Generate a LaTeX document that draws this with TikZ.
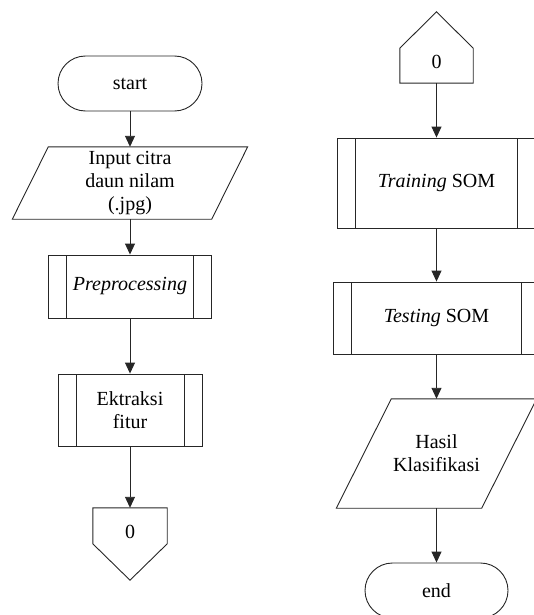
\documentclass[tikz,border=0pt]{standalone}
\usepackage{fontspec}
\setmainfont{Liberation Serif}
\usetikzlibrary{arrows.meta,shapes.misc}
\begin{document}
\begin{tikzpicture}[x=1pt,y=-1pt,
  box/.style={inner sep=0pt, align=center, font=\fontsize{20}{23}\selectfont},
  line/.style={line width=0.9pt, draw=black!85},
  arr/.style={line, -{Triangle[length=11pt,width=10pt]}},
  term/.style={box, rounded rectangle, draw=black!85, line width=0.9pt},
  proc/.style={box, draw=black!85, line width=0.9pt,
    path picture={\draw[line]
      ([xshift=18pt]path picture bounding box.north west) -- ([xshift=18pt]path picture bounding box.south west)
      ([xshift=-18pt]path picture bounding box.north east) -- ([xshift=-18pt]path picture bounding box.south east);}},
]
\useasboundingbox (0,0) rectangle (534,615);

% left column
\node[term, minimum width=144pt, minimum height=55pt] (start) at (130,83.5) {start};

\node[box, minimum width=235pt, minimum height=72pt] (in) at (130,183) {Input citra\\daun nilam\\(.jpg)};
\draw[line] ([xshift=36pt]in.north west) -- (in.north east) -- ([xshift=-36pt]in.south east) -- (in.south west) -- cycle;

\node[proc, minimum width=163pt, minimum height=63pt] (pre) at (130,286.5) {\textit{Preprocessing}};

\node[proc, minimum width=144pt, minimum height=72pt] (ekt) at (130,410) {Ektraksi\\fitur};

\node[box, minimum width=74pt, minimum height=72pt, label={[box, yshift=12pt]center:0}] (offA) at (130,544) {};
\draw[line] (offA.north west) -- (offA.north east) -- ([yshift=-36pt]offA.north east) -- (offA.south) -- ([yshift=-36pt]offA.north west) -- cycle;

% right column
\node[box, minimum width=73pt, minimum height=71pt, label={[box, yshift=-14pt]center:0}] (offB) at (436.5,47.5) {};
\draw[line] (offB.south west) -- (offB.south east) -- ([yshift=35pt]offB.south east) -- (offB.north) -- ([yshift=35pt]offB.south west) -- cycle;

\node[proc, minimum width=198pt, minimum height=90pt] (train) at (436.5,183) {\textit{Training} SOM};

\node[proc, minimum width=206pt, minimum height=72pt] (test) at (436.5,318) {\textit{Testing} SOM};

\node[box, minimum width=200pt, minimum height=109pt] (hasil) at (436.5,453.5) {Hasil\\Klasifikasi};
\draw[line] ([xshift=55pt]hasil.north west) -- (hasil.north east) -- ([xshift=-55pt]hasil.south east) -- (hasil.south west) -- cycle;

\node[term, minimum width=143pt, minimum height=55pt] (end) at (436.5,590.5) {end};

% connectors
\draw[arr] (start.south) -- (in.north);
\draw[arr] (in.south) -- (pre.north);
\draw[arr] (pre.south) -- (ekt.north);
\draw[arr] (ekt.south) -- (offA.north);
\draw[arr] (offB.south) -- (train.north);
\draw[arr] (train.south) -- (test.north);
\draw[arr] (test.south) -- (hasil.north);
\draw[arr] (hasil.south) -- (end.north);
\end{tikzpicture}
\end{document}
